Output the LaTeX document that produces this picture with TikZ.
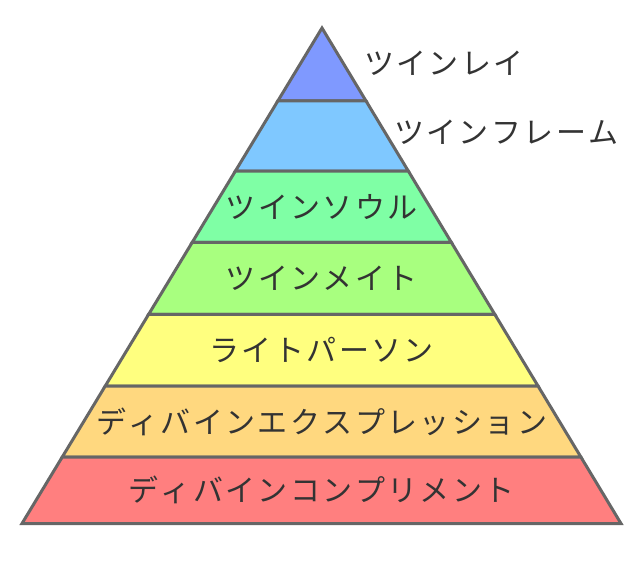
\documentclass[tikz,border=0pt]{standalone}
\usepackage{fontspec}
\newfontfamily\jpfont[Kerning=Off, LetterSpace=8]{Noto Sans CJK JP}
\usetikzlibrary{calc, positioning}

\definecolor{edgegray}{HTML}{666666}
\definecolor{textgray}{HTML}{333333}
\definecolor{layerA}{HTML}{7F99FF}
\definecolor{layerB}{HTML}{7FC8FF}
\definecolor{layerC}{HTML}{7FFFA5}
\definecolor{layerD}{HTML}{A8FF7F}
\definecolor{layerE}{HTML}{FFFF7F}
\definecolor{layerF}{HTML}{FFD87F}
\definecolor{layerG}{HTML}{FF7F7F}

\tikzset{
  layer/.style={draw=edgegray, line width=3pt},
  lbl/.style={text=textgray, inner sep=0pt, font=\jpfont\fontsize{30}{36}\selectfont}
}

\begin{document}
\begin{tikzpicture}[x=1pt, y=-1pt]
			\useasboundingbox (0,0) rectangle (640,560);
			
			% Corners of the pyramid
			\coordinate (apex) at (322, 28);
			\coordinate (bl) at (22, 523.5);
			\coordinate (br) at (621, 523.5);
			
			% Level boundaries on both sides
			\coordinate (l1) at ($(apex)!0.1473!(bl)$); \coordinate (r1) at ($(apex)!0.1473!(br)$);
			\coordinate (l2) at ($(apex)!0.2886!(bl)$); \coordinate (r2) at ($(apex)!0.2886!(br)$);
			\coordinate (l3) at ($(apex)!0.4325!(bl)$); \coordinate (r3) at ($(apex)!0.4325!(br)$);
			\coordinate (l4) at ($(apex)!0.5778!(bl)$); \coordinate (r4) at ($(apex)!0.5778!(br)$);
			\coordinate (l5) at ($(apex)!0.7225!(bl)$); \coordinate (r5) at ($(apex)!0.7225!(br)$);
			\coordinate (l6) at ($(apex)!0.8658!(bl)$); \coordinate (r6) at ($(apex)!0.8658!(br)$);
			
			% Layers, top to bottom
			\filldraw[layer, fill=layerA] (apex) -- (r1) -- (l1) -- cycle;
			\filldraw[layer, fill=layerB] (l1) -- (r1) -- (r2) -- (l2) -- cycle;
			\filldraw[layer, fill=layerC] (l2) -- (r2) -- (r3) -- (l3) -- cycle;
			\filldraw[layer, fill=layerD] (l3) -- (r3) -- (r4) -- (l4) -- cycle;
			\filldraw[layer, fill=layerE] (l4) -- (r4) -- (r5) -- (l5) -- cycle;
			\filldraw[layer, fill=layerF] (l5) -- (r5) -- (r6) -- (l6) -- cycle;
			\filldraw[layer, fill=layerG] (l6) -- (r6) -- (br) -- (bl) -- cycle;
			
			% Labels
			\node[lbl, anchor=west] (twinray) at (364, 63) {ツインレイ};
			\node[lbl, anchor=west] (twinflame) at (394, 132) {ツインフレーム};
			\node[lbl] (twinsoul) at ($.25*(l2)+.25*(r2)+.25*(l3)+.25*(r3)$) {ツインソウル};
			\node[lbl] (twinmate) at ($.25*(l3)+.25*(r3)+.25*(l4)+.25*(r4)$) {ツインメイト};
			\node[lbl] (lightperson) at ($.25*(l4)+.25*(r4)+.25*(l5)+.25*(r5)$) {ライトパーソン};
			\node[lbl] (divexpr) at ($.25*(l5)+.25*(r5)+.25*(l6)+.25*(r6)$) {ディバインエクスプレッション};
			\node[lbl] (divcompl) at ($.25*(l6)+.25*(r6)+.25*(bl)+.25*(br)$) {ディバインコンプリメント};
		\end{tikzpicture}
\end{document}
